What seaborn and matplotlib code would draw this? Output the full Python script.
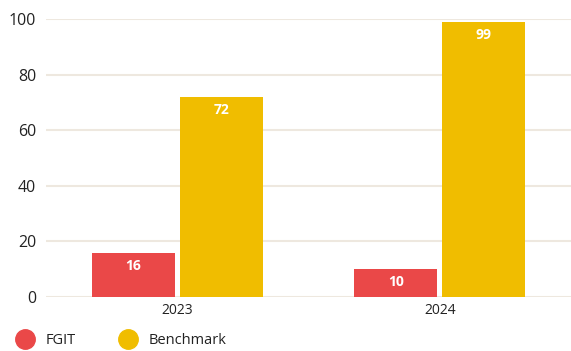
import matplotlib
matplotlib.use("Agg")
import matplotlib.pyplot as plt
from matplotlib.lines import Line2D
import seaborn as sns
import pandas as pd

years = ["2023", "2024"]
series = ["FGIT", "Benchmark"]
fgit = [16, 10]
benchmark = [72, 99]
y_ticks = [0, 20, 40, 60, 80, 100]
colors = {"FGIT": "#EA4848", "Benchmark": "#F0BD00"}

df = pd.DataFrame({
    "year": years * 2,
    "series": [series[0]] * len(years) + [series[1]] * len(years),
    "value": fgit + benchmark,
})

sns.set_theme(style="white")
plt.rcParams["font.family"] = ["Open Sans", "DejaVu Sans"]

fig = plt.figure(figsize=(5.71, 3.51), dpi=100)
ax = fig.add_axes([46 / 571, 1 - 297 / 351, 1 - 46 / 571, (297 - 19) / 351])

sns.barplot(data=df, x="year", y="value", hue="series", order=years,
            hue_order=series, palette=colors, width=0.67, gap=0.057,
            saturation=1, linewidth=0, legend=False, ax=ax, zorder=3)

ax.set_xlim(-0.5, 1.5)
ax.set_ylim(0, 100)
ax.set_yticks(y_ticks)
ax.grid(axis="y", color="#EEE8DF", linewidth=1.5, zorder=0)
ax.set_axisbelow(True)
for s in ax.spines.values():
    s.set_visible(False)
ax.tick_params(axis="y", length=0, pad=7, labelsize=11.5, labelcolor="#222222")
ax.tick_params(axis="x", length=0, pad=4, labelsize=10, labelcolor="#222222")
ax.set_xlabel("")
ax.set_ylabel("")

for container in ax.containers:
    for bar in container:
        h = bar.get_height()
        ax.annotate(f"{h:.0f}", (bar.get_x() + bar.get_width() / 2, h),
                    xytext=(0, -9.5), textcoords="offset points",
                    ha="center", va="center", color="white",
                    fontsize=10, fontweight="bold", zorder=4)

handles = [Line2D([], [], marker="o", linestyle="", markersize=14,
                  markerfacecolor=colors[s], markeredgecolor=colors[s])
           for s in series]
fig.legend(handles, series, loc="center left", bbox_to_anchor=(-0.004, 1 - 341 / 351),
           ncol=2, frameon=False, fontsize=10.5, handletextpad=0.4,
           columnspacing=2.6, labelcolor="#222222")

fig.savefig("out.png", dpi=100)
